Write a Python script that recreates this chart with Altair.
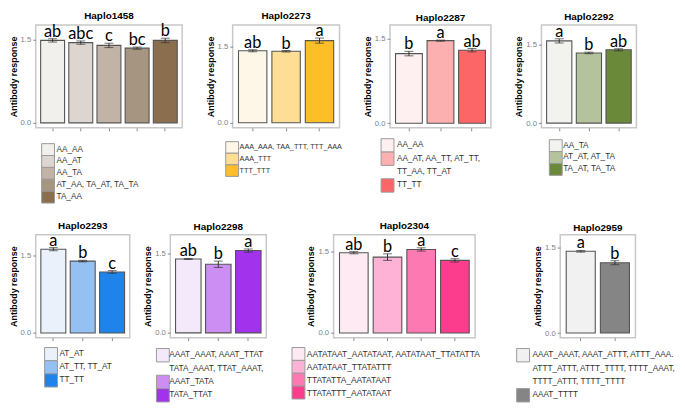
import altair as alt
import pandas as pd

# ---------------- data ----------------
H1458_labels = [["AA_AA"], ["AA_AT"], ["AA_TA"], ["AT_AA, TA_AT, TA_TA"], ["TA_AA"]]
H1458_means = [1.49, 1.45, 1.40, 1.35, 1.49]
H1458_se = [0.03, 0.03, 0.04, 0.02, 0.04]
H1458_letters = ["ab", "abc", "c", "bc", "b"]
H1458_colors = ["#F2F0EC", "#DDD5CF", "#C1B4A6", "#A69581", "#8A6E4E"]

H2273_labels = [["AAA_AAA, TAA_TTT, TTT_AAA"], ["AAA_TTT"], ["TTT_TTT"]]
H2273_means = [1.42, 1.41, 1.62]
H2273_se = [0.02, 0.015, 0.05]
H2273_letters = ["ab", "b", "a"]
H2273_colors = ["#FEF7E8", "#FEDE95", "#FDBE28"]

H2287_labels = [["AA_AA"], ["AA_AT, AA_TT, AT_TT,", "TT_AA, TT_AT"], ["TT_TT"]]
H2287_means = [1.24, 1.47, 1.30]
H2287_se = [0.04, 0.01, 0.03]
H2287_letters = ["b", "a", "ab"]
H2287_colors = ["#FEF0F0", "#FDB0B0", "#FD6666"]

H2292_labels = [["AA_TA"], ["AT_AT, AT_TA"], ["TA_AT, TA_TA"]]
H2292_means = [1.57, 1.34, 1.40]
H2292_se = [0.04, 0.015, 0.02]
H2292_letters = ["a", "b", "ab"]
H2292_colors = ["#F2F2EE", "#B4C39C", "#6A8A3A"]

H2293_labels = [["AT_AT"], ["AT_TT, TT_AT"], ["TT_TT"]]
H2293_means = [1.62, 1.39, 1.18]
H2293_se = [0.03, 0.015, 0.025]
H2293_letters = ["a", "b", "c"]
H2293_colors = ["#EAF1FB", "#94C1F2", "#1E84EC"]

H2298_labels = [["AAAT_AAAT, AAAT_TTAT", "TATA_AAAT, TTAT_AAAT,"], ["AAAT_TATA"], ["TATA_TTAT"]]
H2298_means = [1.40, 1.30, 1.56]
H2298_se = [0.01, 0.06, 0.03]
H2298_letters = ["ab", "b", "a"]
H2298_colors = ["#F3E9FB", "#CC8EF2", "#A232EC"]

H2304_labels = [["AATATAAT_AATATAAT, AATATAAT_TTATATTA"], ["AATATAAT_TTATATTT"],
                ["TTATATTA_AATATAAT"], ["TTATATTT_AATATAAT"]]
H2304_means = [1.47, 1.39, 1.53, 1.33]
H2304_se = [0.02, 0.06, 0.03, 0.03]
H2304_letters = ["ab", "b", "a", "c"]
H2304_colors = ["#FDEAF3", "#FDB2D6", "#FC79B1", "#FC3D8E"]

H2959_labels = [["AAAT_AAAT, AAAT_ATTT, ATTT_AAAT,", "ATTT_ATTT, ATTT_TTTT, TTTT_AAAT,",
                 "TTTT_ATTT, TTTT_TTTT"], ["AAAT_TTTT"]]
H2959_means = [1.43, 1.23]
H2959_se = [0.015, 0.035]
H2959_letters = ["a", "b"]
H2959_colors = ["#F1F1F1", "#858585"]

# ---------------- layout / style ----------------
PANEL_H = 104
FONT = "Liberation Sans"

xaxis = alt.Axis(labels=False, title=None, domain=False, ticks=True, tickSize=3,
                 tickColor="#8c8c8c", grid=False)
yaxis = alt.Axis(values=[0, 0.5, 1, 1.5], format=".1f", title="Antibody response",
                 domain=False, grid=False, tickSize=3, tickColor="#8c8c8c",
                 labelColor="#7f7f7f", labelFontSize=7.8, labelPadding=2,
                 titleFontSize=9, titleFontWeight="bold", titleColor="#000000",
                 titlePadding=2, labelFont=FONT, titleFont=FONT)


def panel(title, labels, means, ses, letters, colors, width, ydom, leg):
    cats = [lab[0] for lab in labels]
    df = pd.DataFrame({
        "cat": cats,
        "mean": means,
        "lo": [m - s for m, s in zip(means, ses)],
        "hi": [m + s for m, s in zip(means, ses)],
        "letter": letters,
        "color": colors,
    })
    yscale = alt.Scale(domain=ydom, nice=False, zero=False)
    xenc = alt.X("cat:N", sort=cats, axis=xaxis,
                 scale=alt.Scale(paddingInner=0.15, paddingOuter=0.175))
    base = alt.Chart(df)
    bars = base.mark_bar(stroke="#555555", strokeWidth=1.1).encode(
        x=xenc,
        y=alt.Y("mean:Q", scale=yscale, axis=yaxis),
        color=alt.Color("color:N", scale=None),
    )
    rule = base.mark_rule(color="#333333", strokeWidth=1).encode(
        x=xenc, y=alt.Y("lo:Q", scale=yscale), y2="hi:Q")
    tlo = base.mark_tick(color="#333333", thickness=1, size=9).encode(
        x=xenc, y=alt.Y("lo:Q", scale=yscale))
    thi = base.mark_tick(color="#333333", thickness=1, size=9).encode(
        x=xenc, y=alt.Y("hi:Q", scale=yscale))
    txt = base.mark_text(font="Lato", fontSize=16.5, baseline="alphabetic", dy=-2,
                         color="#000000").encode(
        x=xenc, y=alt.Y("hi:Q", scale=yscale), text="letter:N")
    plot = alt.layer(bars, rule, tlo, thi, txt)

    # manual legend below the panel
    box_rows, txt_rows = [], []
    r = 0
    for lab, col in zip(labels, colors):
        box_rows.append({"r0": r, "r1": r + 1, "color": col})
        for line in lab:
            txt_rows.append({"rm": r + 0.5, "t": line})
            r += 1
    n = r
    bx, tx, top, pitch, limit, fs = leg
    lscale = alt.Scale(domain=[0, n], range=[top, top + pitch * n], nice=False, zero=False)
    lbox = alt.Chart(pd.DataFrame(box_rows)).mark_rect(stroke="#9a9a9a", strokeWidth=1).encode(
        x=alt.value(bx), x2=alt.value(bx + 13),
        y=alt.Y("r0:Q", scale=lscale, axis=None), y2="r1:Q",
        color=alt.Color("color:N", scale=None))
    tkw = dict(align="left", baseline="middle", fontSize=fs, font=FONT, color="#333333")
    if limit:
        tkw.update(limit=limit, ellipsis=".")
    ltxt = alt.Chart(pd.DataFrame(txt_rows)).mark_text(**tkw).encode(
        x=alt.value(tx), y=alt.Y("rm:Q", scale=lscale, axis=None), text="t:N")
    legend = alt.layer(lbox, ltxt)

    return alt.layer(plot, legend).resolve_scale(y="independent").properties(
        width=width, height=PANEL_H, title=title)


def spacer(w):
    return alt.Chart(pd.DataFrame({"z": [0]})).mark_point(opacity=0).encode(
        x=alt.value(0), y=alt.value(0)
    ).properties(width=w, height=1, view=alt.ViewBackground(strokeOpacity=0))


p1 = panel("Haplo1458", H1458_labels, H1458_means, H1458_se, H1458_letters, H1458_colors,
           148, [-0.09, 1.77], (6, 21, 120, 12, 0, 8.3))
p2 = panel("Haplo2273", H2273_labels, H2273_means, H2273_se, H2273_letters, H2273_colors,
           108, [-0.1, 1.93], (-7, 7, 118, 11.7, 0, 7.3))
p3 = panel("Haplo2287", H2287_labels, H2287_means, H2287_se, H2287_letters, H2287_colors,
           102, [-0.08, 1.75], (-9, 7, 115, 13.5, 0, 8.3))
p4 = panel("Haplo2292", H2292_labels, H2292_means, H2292_se, H2292_letters, H2292_colors,
           96, [-0.09, 1.875], (8, 22, 116, 12, 0, 8.3))
p5 = panel("Haplo2293", H2293_labels, H2293_means, H2293_se, H2293_letters, H2293_colors,
           95, [-0.09, 1.90], (9, 24, 114, 13.3, 0, 8.3))
p6 = panel("Haplo2298", H2298_labels, H2298_means, H2298_se, H2298_letters, H2298_colors,
           97, [-0.09, 1.86], (-14, -1, 115, 13.5, 0, 8.3))
p7 = panel("Haplo2304", H2304_labels, H2304_means, H2304_se, H2304_letters, H2304_colors,
           143, [-0.085, 1.80], (-42, -27, 114, 13, 0, 8.5))
p8 = panel("Haplo2959", H2959_labels, H2959_means, H2959_se, H2959_letters, H2959_colors,
           76, [-0.08, 1.72], (-44, -28, 115, 13.5, 146, 8.3))

row1 = alt.hconcat(p1, p2, p3, p4, spacing=51, bounds="flush")
row2 = alt.hconcat(p5, spacer(41), p6, spacer(68), p7, spacer(86), p8,
                   spacing=0, bounds="flush")

chart = alt.vconcat(row1, row2, spacing=15).properties(
    padding={"left": 0, "top": 0, "right": 0, "bottom": 0},
    background="white",
).configure_view(
    stroke="#c8c8c8", strokeWidth=1.5
).configure_title(
    font=FONT, fontSize=10, fontWeight="bold", offset=2, anchor="middle", color="#000000"
)

chart.save("out.html", embed_options={"renderer": "svg", "actions": False})
